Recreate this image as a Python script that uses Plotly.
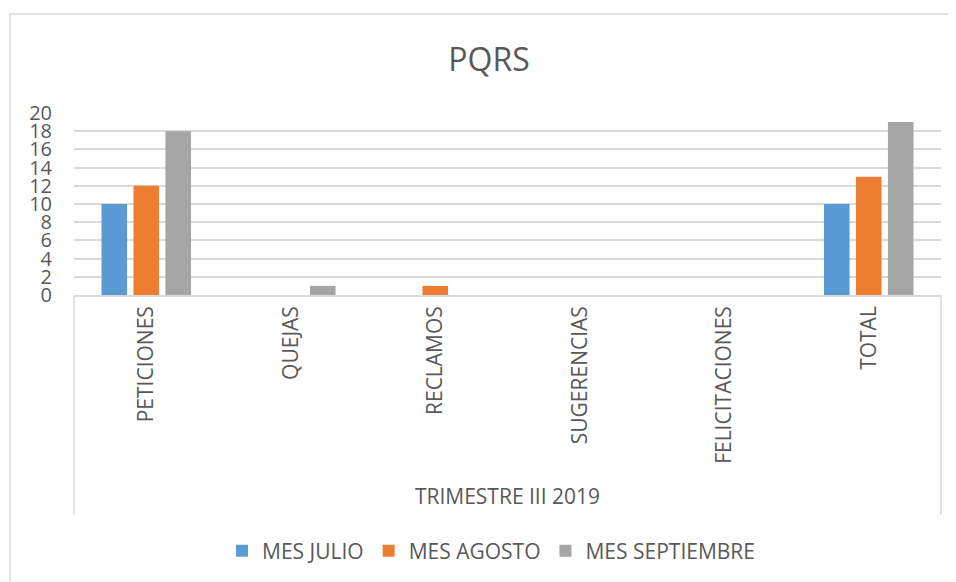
import plotly.graph_objects as go

categories = ["PETICIONES", "QUEJAS", "RECLAMOS", "SUGERENCIAS", "FELICITACIONES", "TOTAL"]
julio = [10, 0, 0, 0, 0, 10]
agosto = [12, 0, 1, 0, 0, 13]
septiembre = [18, 1, 0, 0, 0, 19]
series_names = ["MES JULIO", "MES AGOSTO", "MES SEPTIEMBRE"]
y_ticks = list(range(0, 21, 2))

colors = ["#5B9BD5", "#ED7D31", "#A5A5A5"]
FONT = "Open Sans"
TXT = "#595959"
GRID = "#D9D9D9"

OFF = 8  # page body margin
W, H = 956 - OFF, 582 - OFF
L, R, T, B = 74 - OFF, 941 - OFF, 113 - OFF, 295 - OFF  # plot area in figure px


def px_x(p):
    return (p - OFF - L) / (R - L)


def px_y(p):
    return (B - (p - OFF)) / (B - T)


fig = go.Figure()
for name, vals, c in zip(series_names, [julio, agosto, septiembre], colors):
    fig.add_trace(go.Bar(x=categories, y=vals, name=name, marker=dict(color=c, line=dict(width=0))))

fig.update_layout(
    width=W, height=H,
    margin=dict(l=L, r=W - R, t=T, b=H - B, autoexpand=False),
    paper_bgcolor="white", plot_bgcolor="white",
    barmode="group", bargap=0.336, bargroupgap=0.2,
    font=dict(family=FONT, color=TXT),
    title=dict(text="PQRS", x=(489 - OFF) / W, xref="container", xanchor="center",
               y=1 - (60 - OFF) / H, yref="container", yanchor="middle",
               font=dict(size=32, color=TXT, family=FONT)),
    showlegend=True,
    legend=dict(orientation="h", x=px_x(491), xanchor="center", y=px_y(551), yanchor="middle",
                font=dict(size=21, color=TXT, family=FONT), traceorder="normal"),
    xaxis=dict(showgrid=False, showline=True, linecolor=GRID, linewidth=1.5,
               ticks="", tickangle=-90, tickfont=dict(size=21, color=TXT, family=FONT),
               ticklabelstandoff=1, automargin=False,
               title=dict(text="TRIMESTRE III 2019", standoff=26,
                          font=dict(size=21, color=TXT, family=FONT))),
    yaxis=dict(range=[0, 20], tickvals=y_ticks, showgrid=True, gridcolor=GRID, gridwidth=1.5,
               showline=False, zeroline=False, ticks="", automargin=False,
               tickfont=dict(size=20, color=TXT, family=FONT), ticklabelstandoff=21),
)

shapes = [
    # chart outer border
    dict(type="rect", xref="paper", yref="paper", x0=px_x(10), x1=px_x(975), y0=px_y(600), y1=px_y(14),
         line=dict(color=GRID, width=1.5), fillcolor="rgba(0,0,0,0)", layer="below"),
    # category box side lines
    dict(type="line", xref="paper", yref="paper", x0=0, x1=0, y0=0, y1=px_y(515),
         line=dict(color=GRID, width=1.5)),
    dict(type="line", xref="paper", yref="paper", x0=1, x1=1, y0=0, y1=px_y(515),
         line=dict(color=GRID, width=1.5)),
]
fig.update_layout(shapes=shapes)

fig.write_html("out.html")
